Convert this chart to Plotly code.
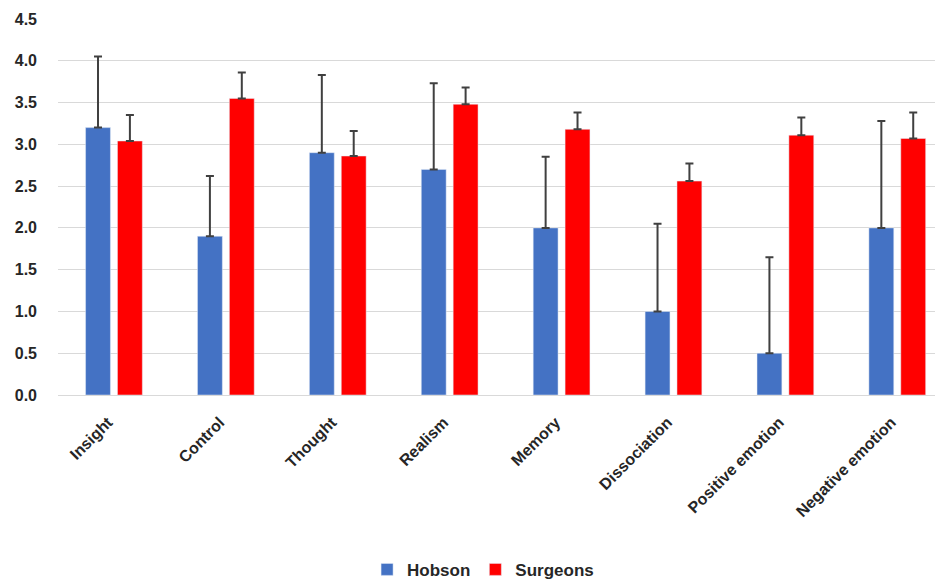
import plotly.graph_objects as go

categories = ["Insight", "Control", "Thought", "Realism", "Memory",
              "Dissociation", "Positive emotion", "Negative emotion"]
hobson = [3.2, 1.9, 2.9, 2.7, 2.0, 1.0, 0.5, 2.0]
hobson_err = [0.85, 0.72, 0.93, 1.03, 0.85, 1.05, 1.15, 1.28]
surgeons = [3.04, 3.55, 2.86, 3.48, 3.18, 2.56, 3.11, 3.07]
surgeons_err = [0.31, 0.31, 0.30, 0.20, 0.20, 0.21, 0.21, 0.31]
y_ticks = [0.0, 0.5, 1.0, 1.5, 2.0, 2.5, 3.0, 3.5, 4.0, 4.5]

err_style = dict(type="data", symmetric=False, color="#404040", thickness=2, width=4)

fig = go.Figure()
fig.add_trace(go.Bar(
    x=categories, y=hobson, name="Hobson", marker_color="#4472C4",
    error_y=dict(array=hobson_err, arrayminus=[0] * len(hobson), **err_style),
))
fig.add_trace(go.Bar(
    x=categories, y=surgeons, name="Surgeons", marker_color="#FF0000",
    error_y=dict(array=surgeons_err, arrayminus=[0] * len(surgeons), **err_style),
))

font_family = "Liberation Sans, Arial, sans-serif"
txt = "#262626"
fig.update_layout(
    width=943, height=583, autosize=False,
    margin=dict(l=50, r=0, t=11, b=196, autoexpand=False),
    paper_bgcolor="white", plot_bgcolor="white",
    barmode="group", bargap=0.43, bargroupgap=0.22,
    font=dict(family=font_family, color=txt),
    showlegend=True,
    legend=dict(orientation="h", x=0.476, xanchor="center",
                y=-0.465, yanchor="middle",
                font=dict(size=17, color=txt, weight="bold"),
                itemwidth=30, traceorder="normal"),
    xaxis=dict(range=[-0.5, 7.48], tickangle=-45, showgrid=False,
               showline=False, ticks="", automargin=False,
               ticklabelstandoff=14, ticklabelshift=-6,
               tickfont=dict(size=16, color=txt, weight="bold")),
    yaxis=dict(range=[0, 4.5], tickvals=y_ticks,
               ticktext=[f"{v:.1f}" for v in y_ticks],
               showgrid=True, gridcolor="#d9d9d9", gridwidth=1,
               zeroline=True, zerolinecolor="#d9d9d9", zerolinewidth=1,
               showline=False, ticks="", ticklabelstandoff=20, automargin=False,
               tickfont=dict(size=16, color=txt, weight="bold")),
)

fig.write_html("out.html")
